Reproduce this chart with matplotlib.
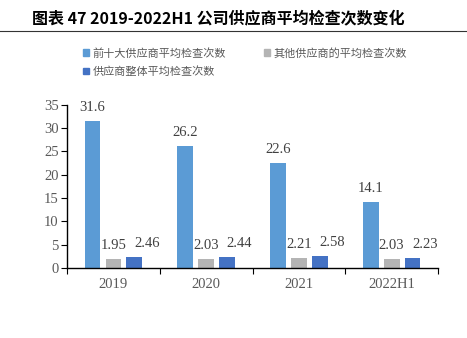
import numpy as np
import matplotlib.pyplot as plt
from matplotlib.lines import Line2D

plt.rcParams['font.family'] = ['Noto Sans CJK SC', 'DejaVu Sans']

# categories and series
years = ['2019', '2020', '2021', '2022H1']
top10 = [31.6, 26.2, 22.6, 14.1]
others = [1.95, 2.03, 2.21, 2.03]
overall = [2.46, 2.44, 2.58, 2.23]
series_names = ['前十大供应商平均检查次数', '其他供应商的平均检查次数', '供应商整体平均检查次数']
colors = ['#5B9BD5', '#B4B4B4', '#4472C4']

fig = plt.figure(figsize=(4.67, 3.38), dpi=100)
ax = fig.add_axes([0.1435, 0.207, 0.7945, 0.483])

x = np.arange(len(years))
w = 0.17
step = 0.225
serif = 'Liberation Serif'
# horizontal nudge (points) of the value labels for each series
label_dx = [0, 0, 9]
for i, (vals, c) in enumerate(zip([top10, others, overall], colors)):
    xs = x + (i - 1) * step
    ax.bar(xs, vals, w, color=c, label=series_names[i])
    for xi, v in zip(xs, vals):
        ax.annotate(f'{v:g}', (xi, v), xytext=(label_dx[i], 5), textcoords='offset points',
                    ha='center', va='bottom', fontsize=10.5, color='#404040', family=serif)

ax.set_xlim(-0.5, len(years) - 0.5)
ax.set_ylim(0, 35)
ax.set_yticks(range(0, 36, 5))
ax.set_yticklabels([str(v) for v in range(0, 36, 5)], family=serif, fontsize=10.5, color='#595959')
ax.set_xticks(np.arange(-0.5, len(years), 1.0))
ax.set_xticklabels([])
ax.set_xticks(x, minor=True)
ax.set_xticklabels(years, minor=True, family=serif, fontsize=10.5, color='#595959')
ax.tick_params(axis='x', which='minor', length=0, pad=7)
ax.tick_params(axis='x', which='major', length=4, direction='out', color='black')
ax.tick_params(axis='y', length=4, direction='out', color='black', pad=2)
for s in ['top', 'right']:
    ax.spines[s].set_visible(False)
for s in ['left', 'bottom']:
    ax.spines[s].set_color('black')
    ax.spines[s].set_linewidth(1.0)

# title and rule under it
fig.text(0.068, 0.947, '图表 47 2019-2022H1 公司供应商平均检查次数变化',
         fontsize=11.5, fontweight='bold', va='center', ha='left', color='black')
fig.add_artist(Line2D([0, 1], [0.908, 0.908], color='#333333', lw=0.8))

# legend
handles = [plt.Rectangle((0, 0), 1, 1, color=c) for c in colors]
fig.legend(handles[:2], series_names[:2], loc='center left', bbox_to_anchor=(0.157, 0.843),
           ncol=2, frameon=False, fontsize=8, labelcolor='#595959',
           handlelength=0.55, handleheight=0.55, handletextpad=0.3, columnspacing=3.4)
fig.legend(handles[2:], series_names[2:], loc='center left', bbox_to_anchor=(0.157, 0.788),
           frameon=False, fontsize=8, labelcolor='#595959',
           handlelength=0.55, handleheight=0.55, handletextpad=0.3)

fig.savefig('out.png', dpi=100)
